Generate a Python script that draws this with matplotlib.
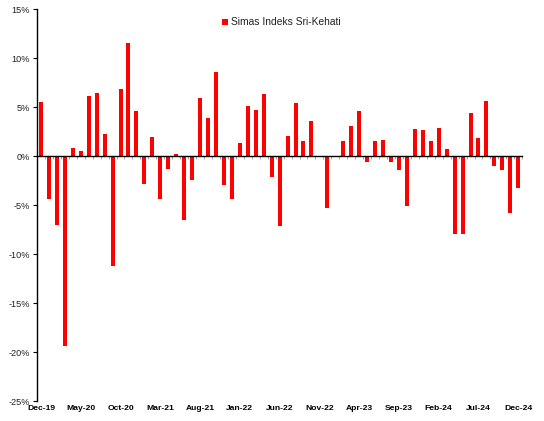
import numpy as np
import matplotlib
matplotlib.use("Agg")
import matplotlib.pyplot as plt

# monthly returns, Dec-19 .. Dec-24 (%)
returns = [
    5.5, -4.4, -7.0, -19.4, 0.85, 0.55, 6.1, 6.4, 2.3, -11.2,
    6.9, 11.6, 4.6, -2.8, 2.0, -4.35, -1.3, 0.2, -6.5, -2.4,
    5.9, 3.9, 8.6, -2.9, -4.4, 1.35, 5.1, 4.7, 6.3, -2.1,
    -7.1, 2.05, 5.45, 1.5, 3.6, 0.0, -5.25, 0.0, 1.5, 3.1,
    4.6, -0.55, 1.5, 1.6, -0.55, -1.45, -5.1, 2.8, 2.7, 1.55,
    2.9, 0.7, -7.9, -7.95, 4.4, 1.85, 5.6, -1.05, -1.4, -5.85,
    -3.25,
]
tick_labels = ["Dec-19", "May-20", "Oct-20", "Mar-21", "Aug-21", "Jan-22", "Jun-22",
               "Nov-22", "Apr-23", "Sep-23", "Feb-24", "Jul-24", "Dec-24"]
series_name = "Simas Indeks Sri-Kehati"

plt.rcParams['font.family'] = ['Liberation Sans', 'DejaVu Sans']

n = len(returns)
x = np.arange(n)

fig = plt.figure(figsize=(5.44, 4.21), dpi=100)
ax = fig.add_axes([0.068, 0.0475, 0.892, 0.9305])

ax.bar(x, returns, width=0.5, color='#ff0000', label=series_name, zorder=2)

ax.set_xlim(-0.5, n - 0.5)
ax.set_ylim(-25, 15)
ax.set_yticks(np.arange(-25, 16, 5))
ax.set_yticklabels([f"{v}%" for v in range(-25, 16, 5)], fontsize=6.6, color='#222222')
ax.tick_params(axis='y', length=3, width=0.8, pad=2)

for s in ['top', 'right']:
    ax.spines[s].set_visible(False)
ax.spines['left'].set_linewidth(1.0)
ax.spines['bottom'].set_position(('data', 0))
ax.spines['bottom'].set_linewidth(1.0)
ax.spines['bottom'].set_zorder(3)

# category boundary ticks on the zero line
ax.set_xticks(np.arange(n + 1) - 0.5)
ax.set_xticklabels([])
ax.tick_params(axis='x', length=2, width=0.6, color='#999999')

# date labels along the bottom
sec = ax.secondary_xaxis(0.0)
sec.set_xticks(x[::5])
sec.set_xticklabels(tick_labels, fontsize=6.1, fontweight='bold')
sec.tick_params(length=0, pad=3)
sec.spines['bottom'].set_visible(False)

ax.legend(loc='upper center', bbox_to_anchor=(0.503, 0.995), frameon=False,
          fontsize=7.4, handlelength=0.6, handleheight=0.6, handletextpad=0.3,
          borderaxespad=0.2, labelcolor='#222222')

fig.savefig("out.png", dpi=100)
